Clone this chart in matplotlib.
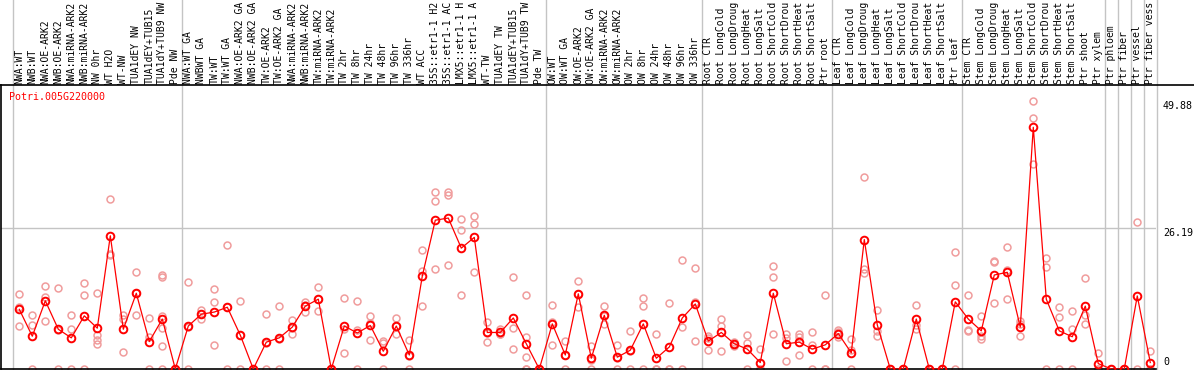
import matplotlib
matplotlib.use("Agg")
import matplotlib.pyplot as plt
from matplotlib.lines import Line2D

gene = "Potri.005G220000"

# sample names as they show in the header (cut to the header height)
samples = [
    "NWA:WT", "NWB:WT", "NWA:OE-ARK2", "NWB:OE-ARK2", "NWA:miRNA-ARK2", "NWB:miRNA-ARK2",
    "NW 0hr", "WT H2O", "WT-NW", "TUA1dEY NW", "TUA1dEY+TUB15", "TUA1dY+TUB9 NW", "Pde NW",
    "NWA:WT GA", "NWBWT GA", "TW:WT", "TW:WT GA", "NWA:OE-ARK2 GA", "NWB:OE-ARK2 GA",
    "TW:OE-ARK2", "TW:OE-ARK2 GA", "NWA:miRNA-ARK2", "NWB:miRNA-ARK2", "TW:miRNA-ARK2",
    "TW:miRNA-ARK2", "TW 2hr", "TW 8hr", "TW 24hr", "TW 48hr", "TW 96hr", "TW 336hr",
    "WT ACC", "35S::etr1-1 H2", "35S::etr1-1 AC", "LMX5::etr1-1 H", "LMX5::etr1-1 A",
    "WT-TW", "TUA1dEY TW", "TUA1dEY+TUB15", "TUA1dY+TUB9 TW", "Pde TW",
    "OW:WT", "OW:WT GA", "OW:OE-ARK2", "OW:OE-ARK2 GA", "OW:miRNA-ARK2", "OW:miRNA-ARK2",
    "OW 2hr", "OW 8hr", "OW 24hr", "OW 48hr", "OW 96hr", "OW 336hr",
    "Root CTR", "Root LongCold", "Root LongDroug", "Root LongHeat", "Root LongSalt",
    "Root ShortCold", "Root ShortDrou", "Root ShortHeat", "Root ShortSalt", "Ptr root",
    "Leaf CTR", "Leaf LongCold", "Leaf LongDroug", "Leaf LongHeat", "Leaf LongSalt",
    "Leaf ShortCold", "Leaf ShortDrou", "Leaf ShortHeat", "Leaf ShortSalt", "Ptr leaf",
    "Stem CTR", "Stem LongCold", "Stem LongDroug", "Stem LongHeat", "Stem LongSalt",
    "Stem ShortCold", "Stem ShortDrou", "Stem ShortHeat", "Stem ShortSalt", "Ptr shoot",
    "Ptr xylem", "Ptr phloem", "Ptr fiber", "Ptr vessel", "Ptr fiber vess",
]

means = [
    11.1, 6.1, 12.7, 7.4, 5.8, 9.9, 7.6, 24.8, 7.4, 14.1, 5.1, 9.3, 0,
    8.0, 10.2, 10.6, 11.5, 6.3, 0, 5.0, 5.8, 7.8, 11.7, 13.0, 0, 8.0, 6.7, 8.1, 3.3,
    8.0, 2.6, 17.3, 27.7, 28.1, 22.5, 24.5, 6.8, 6.8, 9.5, 4.7, 0,
    8.4, 2.6, 14.0, 2.0, 10.0, 2.2, 3.5, 8.4, 2.0, 4.1, 9.5, 12.1,
    5.2, 6.8, 4.7, 3.7, 1.2, 14.1, 4.7, 5.0, 3.7, 4.5,
    6.6, 3.0, 24.1, 8.2, 0, 0, 9.3, 0, 0, 12.5,
    9.3, 7.1, 17.5, 18.0, 7.8, 45.0, 13.0, 7.1, 6.0, 11.7,
    1.0, 0, 0, 13.6, 1.2,
]

replicates = [
    [13.9, 11.6, 8.0], [10.0, 8.1, 0], [15.5, 13.4, 8.9], [15.0, 7.2, 0], [10.0, 7.4, 0],
    [16.0, 13.7, 0], [14.1, 6.4, 5.4, 4.7], [31.6, 21.4, 21.3], [10.0, 9.3, 3.2],
    [18.1, 14.2, 10.0], [9.5, 6.0, 0], [17.5, 17.1, 9.9, 7.6, 4.3, 0], [0, 0, 0],
    [16.2, 7.8, 0], [11.0, 10.2, 9.3], [14.9, 12.5, 4.5], [23.1, 11.5, 0], [12.7, 6.3, 0],
    [0, 0, 0], [10.2, 4.9, 0], [11.7, 5.6, 0], [9.2, 7.7, 6.6], [12.5, 11.9, 10.7],
    [15.3, 13.0, 10.8], [0, 0, 0], [13.3, 7.5, 3.0], [12.7, 7.3, 0], [9.9, 8.5, 5.4],
    [5.3, 4.8, 0], [9.5, 8.0, 6.5], [5.4, 2.4, 0], [22.2, 18.2, 11.7], [32.9, 31.3, 18.7],
    [33.0, 32.3, 19.3], [27.9, 25.8, 13.7], [28.5, 26.9, 18.1], [8.7, 6.7, 5.1],
    [7.5, 6.5, 6.5], [17.1, 7.6, 3.7], [13.7, 6.0, 2.2, 0, 0], [0, 0, 0],
    [11.9, 8.8, 4.5], [5.2, 2.6, 0], [16.4, 14.0, 11.5], [4.3, 1.6, 0], [11.7, 9.9, 8.4],
    [4.5, 2.0, 0], [7.0, 3.4, 0], [13.2, 11.8, 0], [6.5, 0, 0], [12.2, 0, 0],
    [20.3, 7.9, 0], [18.8, 12.4, 5.2],
    [6.2, 5.8, 3.5], [9.3, 8.0, 3.3], [5.1, 4.7, 4.2], [6.4, 4.9, 0], [3.7, 0, 0],
    [19.1, 17.1, 6.5], [6.5, 5.8, 1.4], [6.5, 6.0, 2.6], [6.8, 4.5, 0], [13.7, 0, 0],
    [7.2, 6.8, 6.0], [5.6, 3.5, 0], [35.7, 18.7, 17.8], [11.0, 7.1, 6.2], [0, 0, 0],
    [0, 0, 0], [11.9, 8.1, 7.4], [0, 0, 0], [0, 0, 0], [21.8, 15.6, 0],
    [13.7, 7.2, 7.0], [9.9, 6.2, 5.6], [20.1, 19.9, 12.2], [22.7, 18.4, 13.0],
    [8.9, 8.3, 6.2], [49.88, 46.7, 38.1], [20.7, 18.9, 0], [11.6, 9.6, 0],
    [10.8, 7.4, 0], [16.9, 10.1, 8.4],
    [2.9, 0, 0], [0, 0, 0], [0, 0, 0], [27.4, 0], [3.4, 0, 0],
]

# separators between sample groups
group_edges = [-0.5, 12.5, 40.5, 52.5, 62.5, 72.5, 83.5, 84.5, 85.5, 86.5, 87.5]
grid_values = [26.19]
axis_values = [49.88, 26.19, 0]

mono = "DejaVu Sans Mono"
W, H = 1194, 370

fig = plt.figure(figsize=(W / 100, H / 100), dpi=100)
ax = fig.add_axes([1 / W, 1 / H, 1155 / W, 284 / H])
ax.set_xlim(-1.408, 87.44)
ax.set_ylim(0, 284 / 5.372)

x = list(range(len(samples)))

for e in group_edges:
    ax.axvline(e, ymin=0, ymax=1.31, color="#c4c4c4", lw=1, clip_on=False, zorder=0)
for g in grid_values:
    ax.axhline(g, color="#c4c4c4", lw=1, zorder=0)

for i, reps in enumerate(replicates):
    ax.plot([i] * len(reps), reps, "o", mfc="none", mec="#f09c9c", ms=5, mew=1.1, zorder=2)

ax.plot(x, means, "-o", color="red", lw=0.9, mfc="none", ms=5.5, mew=1.4, zorder=3)

for i, s in enumerate(samples):
    ax.text(i, 1 + 1.5 / 284, s, rotation=90, ha="center", va="bottom", fontsize=7.0,
            family=mono, transform=ax.get_xaxis_transform(), clip_on=False)

fig.text(9 / W, (H - 97) / H, gene, color="red", fontsize=7.2, family=mono, va="center")

for v in axis_values:
    dy = 7 if v == 0 else -5
    ax.annotate(f"{v:g}", xy=(1, v), xycoords=("axes fraction", "data"), xytext=(7, dy),
                textcoords="offset pixels", va="center", ha="left", fontsize=7.2,
                family=mono, annotation_clip=False)

for side in ["top", "right"]:
    ax.spines[side].set_visible(False)
ax.spines["left"].set_linewidth(1.2)
ax.spines["bottom"].set_linewidth(1.2)
ax.set_xticks([])
ax.set_yticks([])

fig.add_artist(Line2D([0, 1], [285 / H, 285 / H], transform=fig.transFigure, color="black", lw=1.2))

fig.savefig("out.png", dpi=100)
